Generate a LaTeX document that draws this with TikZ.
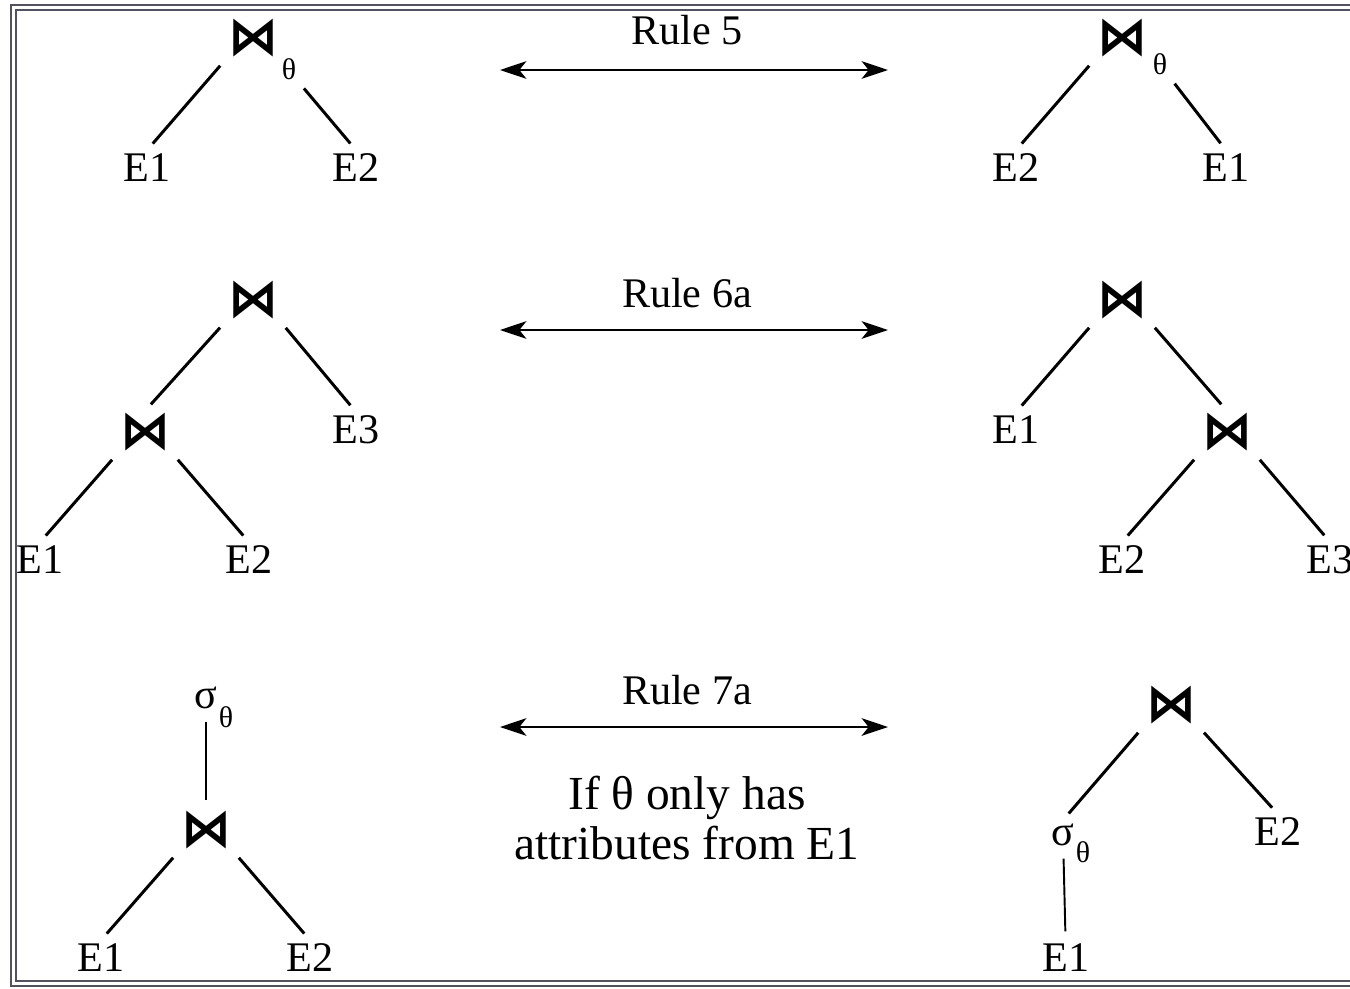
\documentclass[tikz,border=0pt]{standalone}
\usepackage{fontspec}
\setmainfont{Liberation Serif}
\newfontfamily\symfont{DejaVu Sans}
\usepackage{graphicx}
\usetikzlibrary{arrows.meta}
\definecolor{framegray}{RGB}{82,82,94}
\tikzset{lbl/.style={font=\fontsize{24}{28}\selectfont, inner sep=2pt}}
\tikzset{sub/.style={font=\fontsize{17}{20}\selectfont, inner sep=1pt}}
\tikzset{jn/.style={inner sep=1pt}}
\tikzset{edge/.style={draw, line width=1.7pt, shorten <=5pt, shorten >=5pt}}
\tikzset{arr/.style={draw, {Stealth[length=15pt,width=10pt,inset=4pt]}-{Stealth[length=15pt,width=10pt,inset=4pt]}, line width=1.6pt}}
\newcommand{\jn}{\resizebox*{1.0cm}{0.76cm}{\symfont\bfseries ⋈}}

\begin{document}
\begin{tikzpicture}[x=0.02cm, y=-0.02cm]
	\clip (0,0) rectangle (1350,988);
	\draw[framegray, line width=1.1pt] (11,5) rectangle (1400,986);
	\draw[framegray, line width=1.1pt] (16,10) rectangle (1395,981);
	
	% Rule 5
	\node[jn] (J5l) at (253,38){\jn};
	\node[sub] (t5l) at (289,69){θ};
	\node[lbl] (E1a) at (147,168){E1};
	\node[lbl] (E2a) at (356,168){E2};
	\draw[edge] (J5l.south west) -- (E1a.north);
	\draw[edge] (t5l.south east) -- (E2a.north);
	
	\node[lbl] (R5) at (687,30){Rule 5};
	\coordinate (a5l) at (500,70);
	\coordinate (a5r) at (888,70);
	\draw[arr] (a5l) -- (a5r);
	
	\node[jn] (J5r) at (1122,38){\jn};
	\node[sub] (t5r) at (1160,64){θ};
	\node[lbl] (E2b) at (1016,168){E2};
	\node[lbl] (E1b) at (1226,168){E1};
	\draw[edge] (J5r.south west) -- (E2b.north);
	\draw[edge] (t5r.south east) -- (E1b.north);
	
	% Rule 6a
	\node[jn] (J6l) at (253,300){\jn};
	\node[jn] (K6l) at (145,432){\jn};
	\node[lbl] (E3c) at (356,430){E3};
	\node[lbl] (E1c) at (40,560){E1};
	\node[lbl] (E2c) at (249,560){E2};
	\draw[edge] (J6l.south west) -- (K6l.north);
	\draw[edge] (J6l.south east) -- (E3c.north);
	\draw[edge] (K6l.south west) -- (E1c.north);
	\draw[edge] (K6l.south east) -- (E2c.north);
	
	\node[lbl] (R6) at (687,293){Rule 6a};
	\coordinate (a6l) at (500,330);
	\coordinate (a6r) at (888,330);
	\draw[arr] (a6l) -- (a6r);
	
	\node[jn] (J6r) at (1122,300){\jn};
	\node[jn] (K6r) at (1227,432){\jn};
	\node[lbl] (E1d) at (1016,430){E1};
	\node[lbl] (E2d) at (1122,560){E2};
	\node[lbl] (E3d) at (1330,560){E3};
	\draw[edge] (J6r.south west) -- (E1d.north);
	\draw[edge] (J6r.south east) -- (K6r.north);
	\draw[edge] (K6r.south west) -- (E2d.north);
	\draw[edge] (K6r.south east) -- (E3d.north);
	
	% Rule 7a
	\node[lbl] (S7l) at (206,698){σ};
	\node[sub] (t7l) at (226,717){θ};
	\node[jn] (J7l) at (206,830){\jn};
	\node[lbl] (E1e) at (101,958){E1};
	\node[lbl] (E2e) at (310,958){E2};
	\draw[edge] (S7l) -- (J7l);
	\draw[edge] (J7l.south west) -- (E1e.north);
	\draw[edge] (J7l.south east) -- (E2e.north);
	
	\node[lbl] (R7) at (687,690){Rule 7a};
	\coordinate (a7l) at (500,727);
	\coordinate (a7r) at (888,727);
	\draw[arr] (a7l) -- (a7r);
	\node[lbl, font=\fontsize{27}{29}\selectfont, align=center] (cond) at (687,818){If θ only has\\attributes from E1};
	
	\node[jn] (J7r) at (1171,705){\jn};
	\node[lbl] (S7r) at (1063,835){σ};
	\node[sub] (t7r) at (1083,852){θ};
	\node[lbl] (E2f) at (1278,832){E2};
	\node[lbl] (E1f) at (1066,958){E1};
	\draw[edge] (J7r.south west) -- (S7r.north);
	\draw[edge] (J7r.south east) -- (E2f.north);
	\draw[edge, line width=1.1pt] (S7r) -- (E1f);
\end{tikzpicture}
\end{document}
